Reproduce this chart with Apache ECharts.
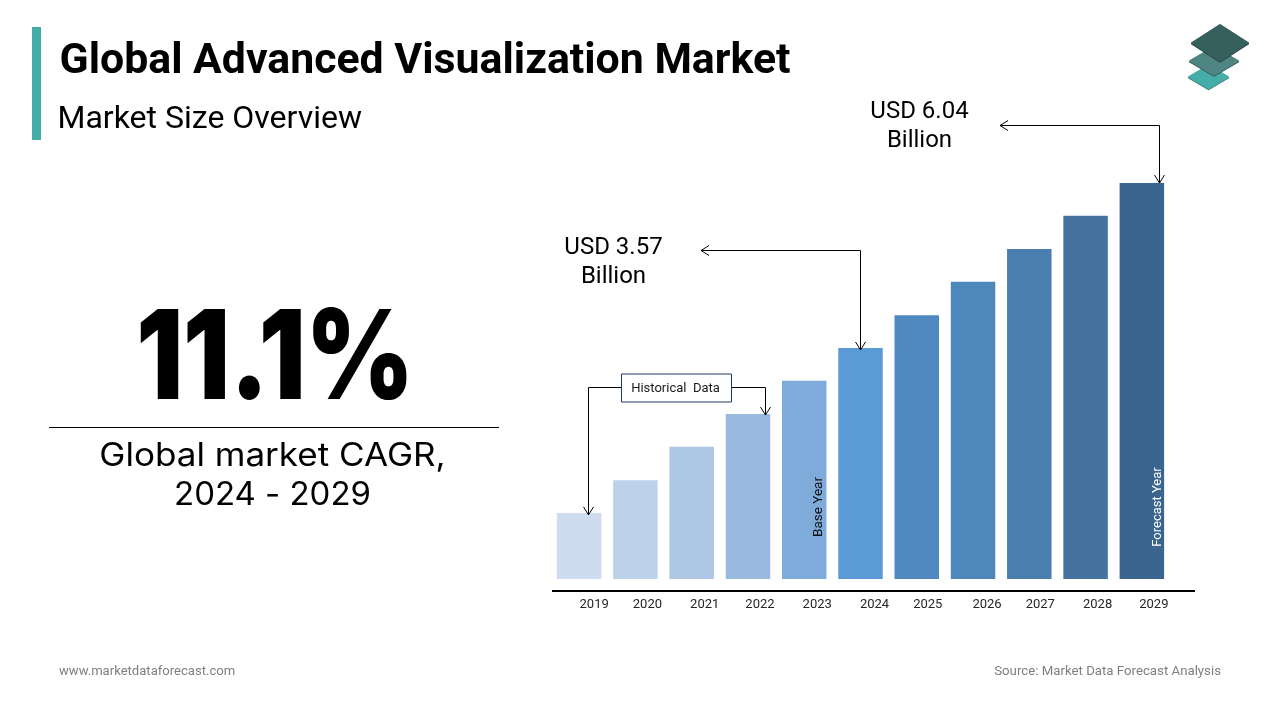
<!DOCTYPE html>
<html>
<head>
<meta charset="utf-8">
<title>Global Advanced Visualization Market</title>
<style>
   html, body { margin: 0; padding: 0; background: #fff; }
   #Chart { width: 1280px; height: 720px; }
</style>
<script src="https://cdn.jsdelivr.net/npm/echarts@6/dist/echarts.min.js"></script>
</head>
<body>
<div id="Chart"></div>
<script>
(function(){
   var years = [ '2019', '2020', '2021', '2022', '2023', '2024', '2025', '2026', '2027', '2028', '2029' ] ;
   var marketSize = [ 1.10, 1.59, 2.09, 2.58, 3.08, 3.57, 4.06, 4.56, 5.05, 5.55, 6.04 ] ;
   var barColors = [ '#CFDCEF', '#BDD1EB', '#AEC6E5', '#9AB9DF', '#7FABDB', '#5B9BD5', '#5089BF', '#4E87BA', '#4A7EAE', '#44739F', '#3A658F' ] ;
   //year labels do not sit evenly under the bars in the reference
   var labelShift = [ 15, 12, 13, 12, 13, 14, 11, 14, 11, 12, 12 ] ;

   var chart = echarts.init( document.getElementById( 'Chart' ) ) ;
   var FONT = 'Roboto' ;
   var TITLE_FONT = 'Inter' ;

   var rich = {} ;
   labelShift.forEach( function( value, index ){
      rich[ 'y' + index ] = { fontFamily: FONT, fontSize: 13, color: '#262626', padding: [ 0, 0, 0, value * 2 ] } ;
   } ) ;

   chart.setOption( {
      animation: false,
      grid: { left: 551, width: 619, top: 183, height: 396 },
      xAxis: {
         type: 'category',
         data: years,
         offset: 12,
         axisTick: { show: false },
         axisLine: { show: false },
         axisLabel: {
            interval: 0,
            margin: 7,
            rich: rich,
            formatter: function( value, index ){
               return '{y' + index + '|' + value + '}' ;
            }
         }
      },
      yAxis: { type: 'value', min: 0.11, max: 6.04, show: false },
      series: [ {
         type: 'bar',
         barWidth: 44.5,
         data: marketSize.map( function( value, index ){
            return { value: value, itemStyle: { color: barColors[index] } } ;
         } )
      } ]
   } ) ;

   //top of a bar in pixels
   function barTop( year )
   {
      var index = years.indexOf( year ) ;
      return chart.convertToPixel( { gridIndex: 0 }, [ index, marketSize[index] ] )[1] ;
   }

   function line( points, color, width )
   {
      return { type: 'polyline', silent: true, shape: { points: points }, style: { stroke: color || '#000', lineWidth: width || 1, fill: null } } ;
   }

   function text( x, y, str, size, opt )
   {
      opt = opt || {} ;
      return {
         type: 'text', x: x, y: y, rotation: opt.rotation || 0, scaleX: opt.scaleX || 1, silent: true,
         style: {
            text: str, fontFamily: opt.font || FONT, fontSize: size, fontWeight: opt.weight || 400,
            fill: opt.color || '#000', align: opt.align || 'left', verticalAlign: 'middle', lineHeight: opt.lineHeight
         }
      } ;
   }

   function arrowDown( x, y )
   {
      return line( [ [ x - 5, y - 8 ], [ x, y ], [ x + 5, y - 8 ] ] ) ;
   }

   function arrowLeft( x, y )
   {
      return line( [ [ x + 8, y - 5 ], [ x, y ], [ x + 8, y + 5 ] ] ) ;
   }

   function rhomb( cx, cy, w, h, color )
   {
      return {
         type: 'polygon', silent: true,
         shape: { points: [ [ cx, cy - h / 2 ], [ cx + w / 2, cy ], [ cx, cy + h / 2 ], [ cx - w / 2, cy ] ] },
         style: { fill: color, stroke: color, lineWidth: 2, lineJoin: 'round' }
      } ;
   }

   var top2019 = barTop( '2019' ) ;
   var top2022 = barTop( '2022' ) ;
   var top2024 = barTop( '2024' ) ;
   var top2029 = barTop( '2029' ) ;

   var elements = [
      //page furniture
      { type: 'rect', silent: true, shape: { x: 32, y: 27, width: 9, height: 113 }, style: { fill: '#45ADA8' } },
      text( 59.5, 62, 'Global Advanced Visualization Market', 42.8, { weight: 700 } ),
      text( 57.5, 120, 'Market Size Overview', 32 ),
      text( 275, 362, '11.1%', 124, { font: TITLE_FONT, weight: 900, align: 'center', scaleX: 0.835 } ),
      line( [ [ 49, 427.5 ], [ 499, 427.5 ] ] ),
      text( 272.5, 456, 'Global market CAGR,', 32, { font: TITLE_FONT, align: 'center', scaleX: 1.095 } ),
      text( 272.5, 495.5, '2024 - 2029', 32, { font: TITLE_FONT, align: 'center', scaleX: 1.03 } ),
      text( 59, 671.5, 'www.marketdataforecast.com', 13, { color: '#7F7F7F', scaleX: 1.006 } ),
      text( 1221, 671.5, 'Source: Market Data Forecast Analysis', 13, { color: '#7F7F7F', align: 'right', scaleX: 1.018 } ),
      //logo
      rhomb( 1208.5, 77.7, 39, 23, '#3A6E6C' ),
      rhomb( 1208.5, 77, 39, 23, '#45ADA8' ),
      rhomb( 1214, 61.7, 48, 28, '#2F4F4E' ),
      rhomb( 1214, 61, 48, 28, '#4F8583' ),
      rhomb( 1220, 43.7, 56, 36, '#263F3E' ),
      rhomb( 1220, 43, 56, 36, '#35605E' ),
      //axis rule
      line( [ [ 552, 591 ], [ 1195, 591 ] ], '#000', 2 ),
      //annotations
      text( 613.5, 262, 'USD 3.57\nBillion', 24, { align: 'center', lineHeight: 29 } ),
      text( 919.5, 126, 'USD 6.04\nBillion', 24, { align: 'center', lineHeight: 29 } ),
      line( [ [ 701, 250.5 ], [ 860.5, 250.5 ], [ 860.5, top2024 + 2 ] ] ),
      arrowLeft( 701, 250.5 ), arrowDown( 860.5, top2024 + 2 ),
      line( [ [ 1000, 125.5 ], [ 1159.5, 125.5 ], [ 1159.5, top2029 ] ] ),
      arrowLeft( 1000, 125.5 ), arrowDown( 1159.5, top2029 ),
      line( [ [ 621, 387.5 ], [ 588.5, 387.5 ], [ 588.5, top2019 + 2 ] ] ),
      arrowDown( 588.5, top2019 + 2 ),
      line( [ [ 732, 387.5 ], [ 765.5, 387.5 ], [ 765.5, top2022 + 1 ] ] ),
      arrowDown( 765.5, top2022 + 1 ),
      { type: 'rect', silent: true, shape: { x: 621.5, y: 374, width: 110, height: 28 }, style: { fill: '#fff', stroke: '#1F3864', lineWidth: 1 } },
      text( 675.5, 389, 'Historical  Data', 13, { align: 'center', color: '#1a1a1a' } ),
      text( 819, 507, 'Base Year', 13.5, { align: 'center', rotation: Math.PI / 2, color: '#111' } ),
      text( 1158, 507, 'Forecast Year', 13, { align: 'center', rotation: Math.PI / 2, color: '#fff' } )
   ] ;

   //graphic elements have to sit over the bars
   elements.forEach( function( item ){
      item.z = 10 ;
   } ) ;

   chart.setOption( { graphic: { elements: elements } } ) ;
}());
</script>
</body>
</html>
